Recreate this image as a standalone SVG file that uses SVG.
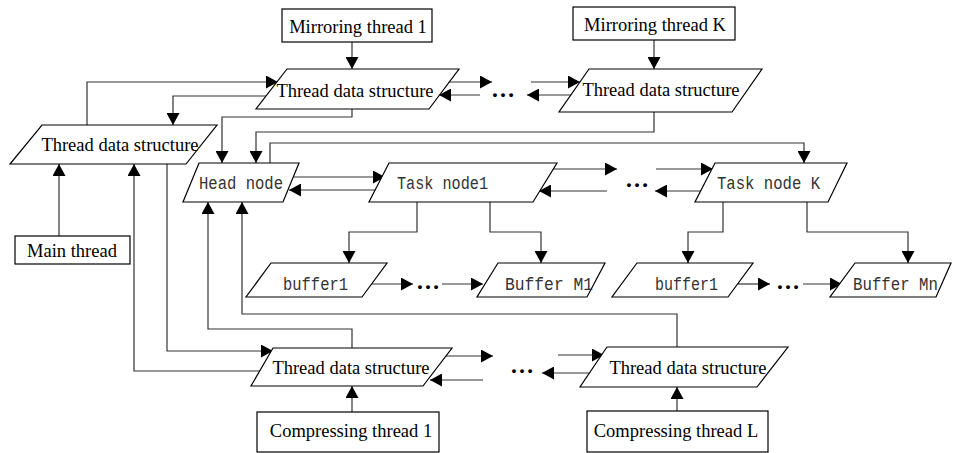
<svg xmlns="http://www.w3.org/2000/svg" width="953" height="453" viewBox="0 0 953 453">
<defs>
<marker id="ah" markerUnits="userSpaceOnUse" markerWidth="12" markerHeight="13" refX="12" refY="6.5" orient="auto">
<path d="M0,0 L12,6.5 L0,13 z" fill="#000"/>
</marker>
<style>
.box{fill:#fff;stroke:#000;stroke-width:1.2}
.par{fill:#fff;stroke:#000;stroke-width:1.2}
.t{font-family:"Liberation Serif","Times New Roman",serif;font-size:18.5px;fill:#000;text-anchor:middle}
.m{font-family:"Liberation Mono","Courier New",monospace;font-size:18px;fill:#333}
.d{font-family:"Liberation Serif",serif;font-size:24px;font-weight:bold;fill:#000;text-anchor:middle}
.c{fill:none;stroke:#333;stroke-width:1.2}
.a{marker-end:url(#ah)}
</style>
</defs>
<rect width="953" height="453" fill="#fff"/>

<g id="connectors">
<path class="c a" d="M352,42 V69"/>
<path class="c a" d="M654,40 V69"/>
<path class="c a" d="M449,82 H492"/>
<path class="c a" d="M531,82 H580"/>
<path class="c a" d="M571,95 H527"/>
<path class="c a" d="M480,95 H439"/>
<path class="c a" d="M87,125 V82 H278"/>
<path class="c a" d="M266,96 H173 V125"/>
<path class="c a" d="M352,109 V117 H222 V163"/>
<path class="c a" d="M654,112 V132 H256 V163"/>
<path class="c a" d="M270,163 V143 H804 V163"/>
<path class="c a" d="M293,177 H385"/>
<path class="c a" d="M375,190 H289"/>
<path class="c a" d="M553,169 H617"/>
<path class="c a" d="M656,169 H713"/>
<path class="c a" d="M702,191 H655"/>
<path class="c a" d="M607,191 H539"/>
<path class="c a" d="M417,202 V232 H349 V263"/>
<path class="c a" d="M490,202 V232 H541 V263"/>
<path class="c a" d="M723,202 V232 H688 V263"/>
<path class="c a" d="M807,202 V232 H908 V263"/>
<path class="c a" d="M372,284 H413"/>
<path class="c a" d="M442,284 H483"/>
<path class="c a" d="M738,284 H770"/>
<path class="c a" d="M803,284 H842"/>
<path class="c a" d="M59,236 V164"/>
<path class="c a" d="M260,371 H134 V164"/>
<path class="c a" d="M167,164 V351 H273"/>
<path class="c a" d="M352,348 V329 H208 V202"/>
<path class="c a" d="M677,347 V314 H242 V202"/>
<path class="c a" d="M352,412 V386"/>
<path class="c a" d="M677,411 V387"/>
<path class="c a" d="M446,356 H493"/>
<path class="c a" d="M558,355 H604"/>
<path class="c a" d="M589,373 H542"/>
<path class="c a" d="M483,380 H430"/>
<text class="d" x="503" y="97">…</text>
<text class="d" x="637" y="187">…</text>
<text class="d" x="428" y="289">…</text>
<text class="d" x="788" y="289">…</text>
<text class="d" x="522" y="373">…</text>
</g>

<g id="mirror1">
<rect class="box" x="282" y="9" width="150" height="33"/>
<text class="t" x="358" y="33">Mirroring thread 1</text>
</g>
<g id="mirrorK">
<rect class="box" x="573" y="7" width="162" height="33"/>
<text class="t" x="655" y="31">Mirroring thread K</text>
</g>
<g id="tds-m1">
<polygon class="par" points="287,69 459,69 429,109 256,109"/>
<text class="t" x="355" y="97">Thread data structure</text>
</g>
<g id="tds-mK">
<polygon class="par" points="589,69 762,69 732,112 559,112"/>
<text class="t" x="661" y="96">Thread data structure</text>
</g>
<g id="tds-main">
<polygon class="par" points="42,125 217,125 186,164 10,164"/>
<text class="t" x="120" y="151">Thread data structure</text>
</g>
<g id="main-thread">
<rect class="box" x="15" y="236" width="115" height="28"/>
<text class="t" x="72" y="257">Main thread</text>
</g>
<g id="head-node">
<polygon class="par" points="199,163 299,163 283,202 183,202"/>
<text class="m" x="199" y="189" textLength="84" lengthAdjust="spacingAndGlyphs">Head node</text>
</g>
<g id="task-node1">
<polygon class="par" points="389,163 557,163 533,202 369,202"/>
<text class="m" x="397" y="189" textLength="91" lengthAdjust="spacingAndGlyphs">Task node1</text>
</g>
<g id="task-nodeK">
<polygon class="par" points="715,163 847,163 828,202 695,202"/>
<text class="m" x="717" y="189" textLength="103" lengthAdjust="spacingAndGlyphs">Task node K</text>
</g>
<g id="buffer1-a">
<polygon class="par" points="271,263 387,263 362,297 246,297"/>
<text class="m" x="283" y="290" textLength="65" lengthAdjust="spacingAndGlyphs">buffer1</text>
</g>
<g id="bufferM1">
<polygon class="par" points="498,263 605,263 587,297 477,297"/>
<text class="m" x="505" y="290" textLength="88" lengthAdjust="spacingAndGlyphs">Buffer M1</text>
</g>
<g id="buffer1-b">
<polygon class="par" points="637,263 753,263 728,297 612,297"/>
<text class="m" x="655" y="290" textLength="63" lengthAdjust="spacingAndGlyphs">buffer1</text>
</g>
<g id="bufferMn">
<polygon class="par" points="855,263 951,263 936,297 830,297"/>
<text class="m" x="853" y="290" textLength="85" lengthAdjust="spacingAndGlyphs">Buffer Mn</text>
</g>
<g id="tds-c1">
<polygon class="par" points="273,348 452,348 423,386 251,386"/>
<text class="t" x="351" y="374">Thread data structure</text>
</g>
<g id="tds-cL">
<polygon class="par" points="607,347 788,347 757,387 580,387"/>
<text class="t" x="688" y="374">Thread data structure</text>
</g>
<g id="compress1">
<rect class="box" x="257" y="412" width="182" height="40"/>
<text class="t" x="351" y="437">Compressing thread 1</text>
</g>
<g id="compressL">
<rect class="box" x="587" y="411" width="181" height="41"/>
<text class="t" x="676" y="437">Compressing thread L</text>
</g>
</svg>
